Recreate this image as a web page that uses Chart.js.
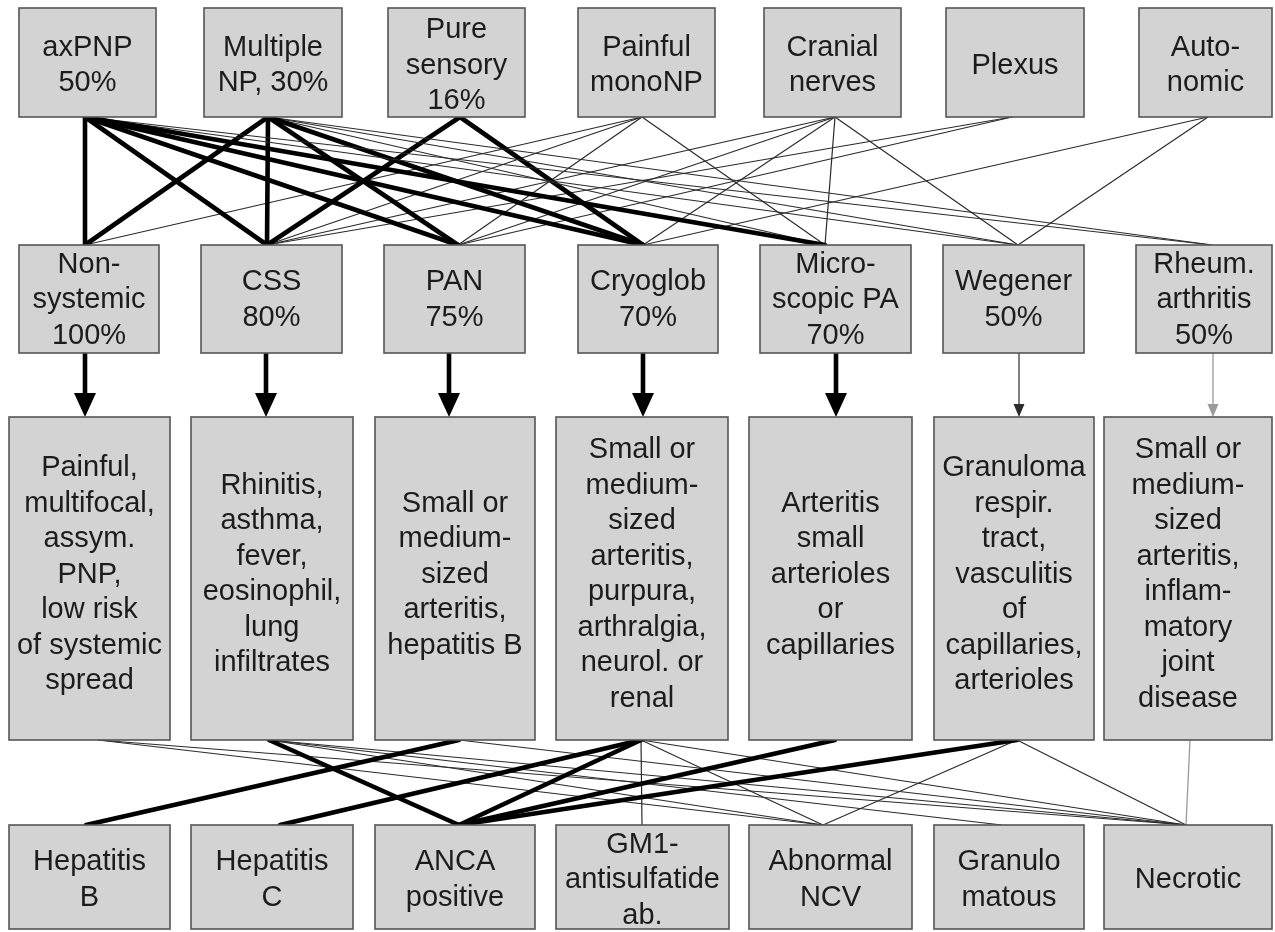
<!DOCTYPE html>
<html>
<head>
<meta charset="utf-8">
<script src="https://cdn.jsdelivr.net/npm/chart.js@4/dist/chart.umd.min.js"></script>
<style>
html,body{margin:0;padding:0;background:#fff;overflow:hidden}
#wrap{width:1275px;height:932px;position:relative}
</style>
</head>
<body>
<div id="wrap"><canvas id="c" width="1275" height="932"></canvas></div>
<script>
// ---------------- DATA ----------------
const neuropathyTypes = [
  ["axPNP", "50%"], ["Multiple", "NP, 30%"], ["Pure", "sensory", "16%"],
  ["Painful", "monoNP"], ["Cranial", "nerves"], ["Plexus"], ["Auto-", "nomic"]
];
const vasculitisTypes = [
  ["Non-", "systemic", "100%"], ["CSS", "80%"], ["PAN", "75%"], ["Cryoglob", "70%"],
  ["Micro-", "scopic PA", "70%"], ["Wegener", "50%"], ["Rheum.", "arthritis", "50%"]
];
const clinicalFeatures = [
  ["Painful,", "multifocal,", "assym.", "PNP,", "low risk", "of systemic", "spread"],
  ["Rhinitis,", "asthma,", "fever,", "eosinophil,", "lung", "infiltrates"],
  ["Small or", "medium-", "sized", "arteritis,", "hepatitis B"],
  ["Small or", "medium-", "sized", "arteritis,", "purpura,", "arthralgia,", "neurol. or", "renal"],
  ["Arteritis", "small", "arterioles", "or", "capillaries"],
  ["Granuloma", "respir.", "tract,", "vasculitis", "of", "capillaries,", "arterioles"],
  ["Small or", "medium-", "sized", "arteritis,", "inflam-", "matory", "joint", "disease"]
];
const markers = [
  ["Hepatitis", "B"], ["Hepatitis", "C"], ["ANCA", "positive"], ["GM1-", "antisulfatide", "ab."],
  ["Abnormal", "NCV"], ["Granulo", "matous"], ["Necrotic"]
];
// links: [from index, to index, strength]  2 = strong, 1 = weak, 0 = faint
const neuropathyToVasculitis = [
  [0,0,2],[0,1,2],[0,2,2],[0,3,2],[0,4,2],[0,5,1],[0,6,1],
  [1,0,2],[1,1,2],[1,2,2],[1,3,2],[1,4,1],[1,5,1],[1,6,1],
  [2,1,2],[2,3,2],
  [3,0,1],[3,1,1],[3,2,1],[3,4,1],
  [4,1,1],[4,2,1],[4,3,1],[4,4,1],[4,5,1],
  [5,1,1],[5,2,1],
  [6,3,1],[6,5,1]
];
const vasculitisToFeatures = [[0,0,2],[1,1,2],[2,2,2],[3,3,2],[4,4,2],[5,5,1],[6,6,0]];
const featuresToMarkers = [
  [1,2,2],[2,0,2],[3,1,2],[3,2,2],[4,2,2],[5,2,2],
  [3,3,1],[6,6,0],
  [0,4,1],[0,6,1],[1,4,1],[1,5,1],[1,6,1],[2,6,1],[3,4,1],[3,6,1],[5,4,1],[5,6,1]
];

// ---------------- LAYOUT (positions / styles) ----------------
const ROWS = [
  {top:8, bottom:117, textDy:3,
   xs:[[19,156],[204,342],[388,525],[578,715],[764,901],[946,1084],[1139,1272]],
   out:[85,268,460,642,835,1012,1208]},
  {top:245, bottom:353, textDy:1,
   xs:[[19,159],[201,342],[384,525],[578,718],[760,911],[943,1084],[1136,1272]],
   inn:[85,267,458,643,825,1018,1212],
   out:[85,266,449,643,836,1019,1213]},
  {top:417, bottom:740, textDy:-4,
   xs:[[9,170],[191,353],[375,535],[556,728],[749,912],[934,1094],[1104,1272]],
   out:[98,269,459,641,835,1017,1190]},
  {top:825, bottom:929, textDy:3,
   xs:[[9,170],[191,353],[375,535],[556,729],[749,912],[934,1084],[1104,1272]],
   inn:[86,280,459,642,823,1002,1186]}
];
const ROW_TEXT = [neuropathyTypes, vasculitisTypes, clinicalFeatures, markers];
const STYLE = {
  2: {w:4.6, c:'#000000'},
  1: {w:1.2, c:'#2b2b2b'},
  0: {w:1.3, c:'#9a9a9a'}
};
const ARROW = {2:{hw:11, hh:24}, 1:{hw:5.5, hh:13}, 0:{hw:5.5, hh:13}};
const FONT = '29px "Liberation Sans", Arial, sans-serif';
const LINE_H = 35.5;

// ---------------- build datasets ----------------
const datasets = [];
function addLinks(links, rA, rB, endOffset) {
  links.forEach(([f, t, s]) => {
    const st = STYLE[s];
    const endX = rB.inn ? rB.inn[t] : rA.out[t];
    datasets.push({
      data: [{x: rA.out[f], y: rA.bottom}, {x: endX, y: rB.top - (endOffset ? ARROW[s].hh - 2 : 0)}],
      borderColor: st.c, borderWidth: st.w, showLine: true, pointRadius: 0,
      borderCapStyle: s === 2 ? 'round' : 'butt', fill: false, tension: 0,
      linkStrength: s, arrow: !!endOffset
    });
  });
}
addLinks(neuropathyToVasculitis, ROWS[0], ROWS[1], false);
addLinks(vasculitisToFeatures, ROWS[1], ROWS[2], true);
addLinks(featuresToMarkers, ROWS[2], ROWS[3], false);

// ---------------- plugin: arrowheads, boxes, text ----------------
const diagramPlugin = {
  id: 'diagram',
  afterDatasetsDraw(chart) {
    const ctx = chart.ctx, X = chart.scales.x, Y = chart.scales.y;
    ctx.save();
    // arrowheads
    datasets.forEach(ds => {
      if (!ds.arrow) return;
      const a = ARROW[ds.linkStrength];
      const p = ds.data[1];
      const tipX = X.getPixelForValue(p.x), baseY = Y.getPixelForValue(p.y) - 2;
      const tipY = baseY + a.hh;
      ctx.beginPath();
      ctx.moveTo(tipX - a.hw, baseY);
      ctx.lineTo(tipX + a.hw, baseY);
      ctx.lineTo(tipX, tipY);
      ctx.closePath();
      ctx.fillStyle = ds.borderColor;
      ctx.fill();
    });
    // boxes and text
    ROWS.forEach((row, ri) => {
      const y0 = Y.getPixelForValue(row.top), y1 = Y.getPixelForValue(row.bottom);
      row.xs.forEach(([l, r], ci) => {
        const x0 = X.getPixelForValue(l), x1 = X.getPixelForValue(r);
        ctx.fillStyle = '#d3d3d3';
        ctx.fillRect(x0, y0, x1 - x0, y1 - y0);
        ctx.strokeStyle = '#555555';
        ctx.lineWidth = 1.6;
        ctx.strokeRect(x0, y0, x1 - x0, y1 - y0);
        const lines = ROW_TEXT[ri][ci];
        ctx.fillStyle = '#1c1c1c';
        ctx.font = FONT;
        ctx.textAlign = 'center';
        ctx.textBaseline = 'middle';
        const cx = (x0 + x1) / 2, cy = (y0 + y1) / 2 + row.textDy;
        const startY = cy - (lines.length - 1) * LINE_H / 2;
        lines.forEach((t, k) => ctx.fillText(t, cx, startY + k * LINE_H));
      });
    });
    ctx.restore();
  }
};

new Chart(document.getElementById('c'), {
  type: 'scatter',
  data: { datasets },
  options: {
    responsive: false,
    animation: false,
    events: [],
    layout: { padding: 0 },
    scales: {
      x: { type: 'linear', min: 0, max: 1275, display: false },
      y: { type: 'linear', min: 0, max: 932, reverse: true, display: false }
    },
    plugins: { legend: { display: false }, tooltip: { enabled: false } }
  },
  plugins: [diagramPlugin]
});
</script>
</body>
</html>
